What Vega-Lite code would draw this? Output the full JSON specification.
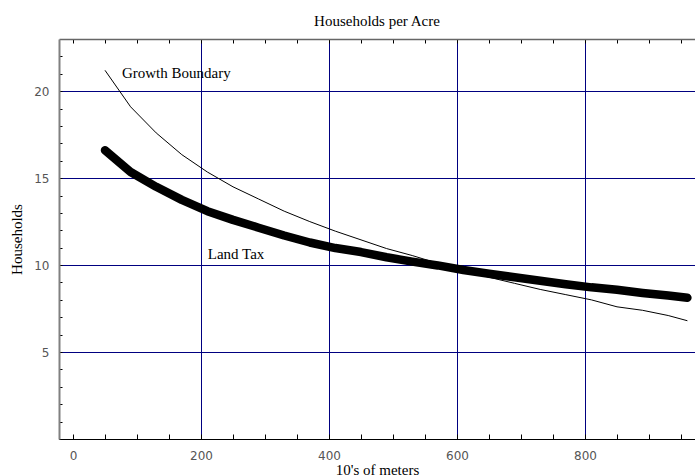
{
  "$schema": "https://vega.github.io/schema/vega-lite/v6.json",
  "width": 636,
  "height": 400,
  "autosize": {"type": "none"},
  "padding": {"left": 59, "top": 39, "right": 0, "bottom": 37},
  "background": "white",
  "title": {"text": "Households per Acre", "font": "Liberation Serif", "fontSize": 15, "fontWeight": "normal", "color": "black", "offset": 10, "anchor": "middle"},
  "config": {"view": {"stroke": null}},
  "datasets": {
    "curves": [
      {"series": "Land Tax", "x": 50, "households": 16.6},
      {"series": "Land Tax", "x": 90, "households": 15.35},
      {"series": "Land Tax", "x": 130, "households": 14.5},
      {"series": "Land Tax", "x": 170, "households": 13.75},
      {"series": "Land Tax", "x": 210, "households": 13.1},
      {"series": "Land Tax", "x": 250, "households": 12.6},
      {"series": "Land Tax", "x": 290, "households": 12.15},
      {"series": "Land Tax", "x": 330, "households": 11.7},
      {"series": "Land Tax", "x": 370, "households": 11.3},
      {"series": "Land Tax", "x": 410, "households": 10.98},
      {"series": "Land Tax", "x": 450, "households": 10.75},
      {"series": "Land Tax", "x": 490, "households": 10.45},
      {"series": "Land Tax", "x": 530, "households": 10.2},
      {"series": "Land Tax", "x": 570, "households": 9.98},
      {"series": "Land Tax", "x": 610, "households": 9.72},
      {"series": "Land Tax", "x": 650, "households": 9.5},
      {"series": "Land Tax", "x": 690, "households": 9.3},
      {"series": "Land Tax", "x": 730, "households": 9.1},
      {"series": "Land Tax", "x": 770, "households": 8.9},
      {"series": "Land Tax", "x": 810, "households": 8.72},
      {"series": "Land Tax", "x": 850, "households": 8.58},
      {"series": "Land Tax", "x": 890, "households": 8.4},
      {"series": "Land Tax", "x": 930, "households": 8.25},
      {"series": "Land Tax", "x": 960, "households": 8.12},
      {"series": "Growth Boundary", "x": 50, "households": 21.2},
      {"series": "Growth Boundary", "x": 90, "households": 19.1},
      {"series": "Growth Boundary", "x": 130, "households": 17.6},
      {"series": "Growth Boundary", "x": 170, "households": 16.35},
      {"series": "Growth Boundary", "x": 210, "households": 15.35},
      {"series": "Growth Boundary", "x": 250, "households": 14.5},
      {"series": "Growth Boundary", "x": 290, "households": 13.8},
      {"series": "Growth Boundary", "x": 330, "households": 13.1},
      {"series": "Growth Boundary", "x": 370, "households": 12.5},
      {"series": "Growth Boundary", "x": 410, "households": 11.95},
      {"series": "Growth Boundary", "x": 450, "households": 11.45},
      {"series": "Growth Boundary", "x": 490, "households": 10.95},
      {"series": "Growth Boundary", "x": 530, "households": 10.55},
      {"series": "Growth Boundary", "x": 570, "households": 10.1},
      {"series": "Growth Boundary", "x": 610, "households": 9.7},
      {"series": "Growth Boundary", "x": 650, "households": 9.3},
      {"series": "Growth Boundary", "x": 690, "households": 8.95},
      {"series": "Growth Boundary", "x": 730, "households": 8.6},
      {"series": "Growth Boundary", "x": 770, "households": 8.3},
      {"series": "Growth Boundary", "x": 810, "households": 8.0},
      {"series": "Growth Boundary", "x": 850, "households": 7.6},
      {"series": "Growth Boundary", "x": 890, "households": 7.4},
      {"series": "Growth Boundary", "x": 930, "households": 7.1},
      {"series": "Growth Boundary", "x": 960, "households": 6.8}
    ],
    "labels": [
      {"label": "Growth Boundary", "x": 76.5, "households": 20.73},
      {"label": "Land Tax", "x": 210.5, "households": 10.36}
    ]
  },
  "encoding": {
    "y": {
      "field": "households", "type": "quantitative",
      "scale": {"domain": [0, 23], "nice": false, "zero": false},
      "axis": {
        "orient": "left",
        "values": [0, 1, 2, 3, 4, 5, 6, 7, 8, 9, 10, 11, 12, 13, 14, 15, 16, 17, 18, 19, 20, 21, 22],
        "labelExpr": "datum.value % 5 === 0 && datum.value > 0 ? datum.label : ''",
        "labelOverlap": false, "labelFlush": false,
        "tickSize": -3, "tickColor": "black", "tickWidth": 1,
        "labelPadding": 13,
        "labelFont": "DejaVu Sans", "labelFontSize": 12, "labelColor": "#555555",
        "domainColor": "#808080", "domainWidth": 2,
        "grid": true, "gridColor": "#000080", "gridWidth": 1,
        "gridOpacity": {"condition": {"test": "datum.value % 5 === 0 && datum.value > 0", "value": 1}, "value": 0},
        "title": "Households", "titleFont": "Liberation Serif", "titleFontSize": 15, "titleFontWeight": "normal", "titleColor": "black", "titlePadding": 9
      }
    }
  },
  "layer": [
    {
      "data": {"name": "curves"},
      "transform": [{"filter": "datum.series === 'Land Tax'"}],
      "mark": {"type": "line", "color": "black", "strokeWidth": 8.5, "strokeCap": "round", "strokeJoin": "round"},
      "encoding": {
        "x": {
          "field": "x", "type": "quantitative",
          "scale": {"domain": [-21.875, 971.875], "nice": false, "zero": false},
          "axis": {
            "orient": "bottom",
            "values": [0, 50, 100, 150, 200, 250, 300, 350, 400, 450, 500, 550, 600, 650, 700, 750, 800, 850, 900, 950],
            "labelExpr": "datum.value % 200 === 0 ? datum.label : ''",
            "labelOverlap": false, "labelFlush": false,
            "tickSize": -5, "tickColor": "black", "tickWidth": 1,
            "labelPadding": 16,
            "labelFont": "DejaVu Sans", "labelFontSize": 12, "labelColor": "#555555",
            "domainColor": "black", "domainWidth": 1,
            "grid": true, "gridColor": "#000080", "gridWidth": 1,
            "gridOpacity": {"condition": {"test": "datum.value % 200 === 0 && datum.value > 0", "value": 1}, "value": 0},
            "title": "10's of meters", "titleFont": "Liberation Serif", "titleFontSize": 15, "titleFontWeight": "normal", "titleColor": "black", "titlePadding": 1
          }
        }
      }
    },
    {
      "data": {"name": "curves"},
      "transform": [{"filter": "datum.series === 'Growth Boundary'"}],
      "mark": {"type": "line", "color": "black", "strokeWidth": 1},
      "encoding": {
        "x": {
          "field": "x", "type": "quantitative",
          "axis": {
            "orient": "top",
            "values": [0, 50, 100, 150, 200, 250, 300, 350, 400, 450, 500, 550, 600, 650, 700, 750, 800, 850, 900, 950],
            "labels": false,
            "tickSize": -4, "tickColor": "black", "tickWidth": 1,
            "domainColor": "#666666", "domainWidth": 1.5,
            "grid": false, "title": null
          }
        }
      }
    },
    {
      "data": {"name": "labels"},
      "mark": {"type": "text", "align": "left", "baseline": "alphabetic", "font": "Liberation Serif", "fontSize": 15, "color": "black"},
      "encoding": {
        "x": {"field": "x", "type": "quantitative", "axis": null},
        "text": {"field": "label"}
      }
    }
  ],
  "resolve": {"axis": {"x": "independent"}}
}
